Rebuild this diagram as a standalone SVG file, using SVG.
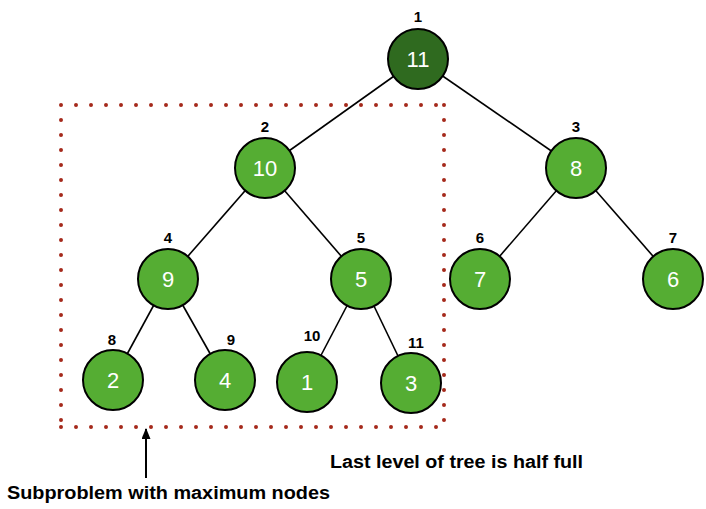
<svg xmlns="http://www.w3.org/2000/svg" width="706" height="509" viewBox="0 0 706 509">
<defs>
<style>
.edge{stroke:#000;stroke-width:1.6;fill:none}
.node{fill:#55ad33;stroke:#000;stroke-width:2}
.root{fill:#2f6a1f}
.val{font-family:"Liberation Sans",Arial,sans-serif;font-size:22px;fill:#fff;text-anchor:middle}
.idx{font-family:"Liberation Sans",Arial,sans-serif;font-size:15px;font-weight:bold;fill:#000;text-anchor:middle}
.cap{font-family:"Liberation Sans",Arial,sans-serif;font-size:18px;font-weight:bold;fill:#000}
.dots{stroke:#a5291b;stroke-width:4;stroke-linecap:round;stroke-dasharray:0 15;fill:none}
</style>
<marker id="ah" markerWidth="11" markerHeight="9" refX="10" refY="4.5" orient="auto" markerUnits="userSpaceOnUse" viewBox="0 0 11 9">
<path d="M0,0 L11,4.5 L0,9 Z" fill="#000"/>
</marker>
</defs>
<rect width="706" height="509" fill="#fff"/>
<g id="connectors">
<line class="edge" x1="418" y1="59" x2="265" y2="168"/>
<line class="edge" x1="418" y1="59" x2="576" y2="168"/>
<line class="edge" x1="265" y1="168" x2="168" y2="279"/>
<line class="edge" x1="265" y1="168" x2="361" y2="279"/>
<line class="edge" x1="576" y1="168" x2="480" y2="279"/>
<line class="edge" x1="576" y1="168" x2="673" y2="279"/>
<line class="edge" x1="168" y1="279" x2="113" y2="380"/>
<line class="edge" x1="168" y1="279" x2="225" y2="380"/>
<line class="edge" x1="361" y1="279" x2="307" y2="382"/>
<line class="edge" x1="361" y1="279" x2="411" y2="383"/>
</g>
<g id="subproblem-box">
<path class="dots" d="M61,105 H446 M444,105 V429 M61,427 H446 M61,105 V429"/>
</g>
<g id="arrow">
<line x1="146" y1="478" x2="146" y2="429" stroke="#000" stroke-width="2" marker-end="url(#ah)"/>
</g>
<g id="n1"><circle class="node root" cx="418" cy="59" r="30"/><text class="val" x="418" y="67">11</text><text class="idx" x="418" y="22">1</text></g>
<g id="n2"><circle class="node" cx="265" cy="168" r="30"/><text class="val" x="265" y="176">10</text><text class="idx" x="265" y="132">2</text></g>
<g id="n3"><circle class="node" cx="576" cy="168" r="30"/><text class="val" x="576" y="176">8</text><text class="idx" x="576" y="132">3</text></g>
<g id="n4"><circle class="node" cx="168" cy="279" r="30"/><text class="val" x="168" y="287">9</text><text class="idx" x="168" y="243">4</text></g>
<g id="n5"><circle class="node" cx="361" cy="279" r="30"/><text class="val" x="361" y="287">5</text><text class="idx" x="361" y="243">5</text></g>
<g id="n6"><circle class="node" cx="480" cy="279" r="30"/><text class="val" x="480" y="287">7</text><text class="idx" x="480" y="243">6</text></g>
<g id="n7"><circle class="node" cx="673" cy="279" r="30"/><text class="val" x="673" y="287">6</text><text class="idx" x="673" y="243">7</text></g>
<g id="n8"><circle class="node" cx="113" cy="380" r="30"/><text class="val" x="113" y="388">2</text><text class="idx" x="112" y="345">8</text></g>
<g id="n9"><circle class="node" cx="225" cy="380" r="30"/><text class="val" x="225" y="388">4</text><text class="idx" x="231" y="345">9</text></g>
<g id="n10"><circle class="node" cx="307" cy="382" r="30"/><text class="val" x="307" y="390">1</text><text class="idx" x="312" y="341">10</text></g>
<g id="n11"><circle class="node" cx="411" cy="383" r="30"/><text class="val" x="411" y="391">3</text><text class="idx" x="416" y="348">11</text></g>
<text class="cap" x="330" y="468" textLength="253" lengthAdjust="spacingAndGlyphs">Last level of tree is half full</text>
<text class="cap" x="7" y="499" textLength="323" lengthAdjust="spacingAndGlyphs">Subproblem with maximum nodes</text>
</svg>
